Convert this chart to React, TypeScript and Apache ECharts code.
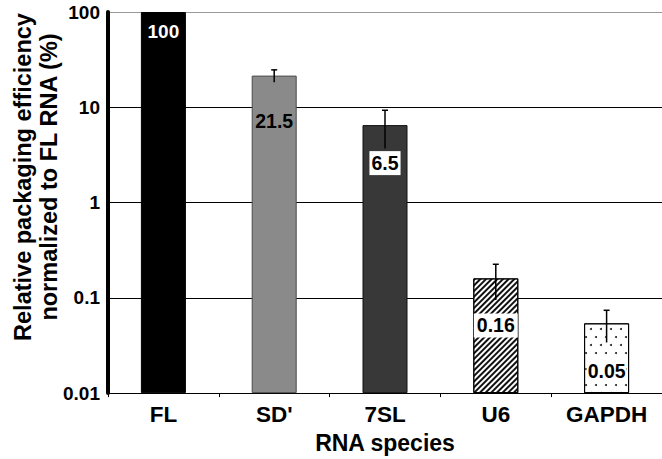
import React, { useEffect, useRef } from "react";
import * as echarts from "echarts";

const categories = ["FL", "SD'", "7SL", "U6", "GAPDH"];
const efficiency = [100, 21.5, 6.5, 0.16, 0.054];
const errors = [0, 3.2, 2.8, 0.065, 0.02];
const valueLabels = ["100", "21.5", "6.5", "0.16", "0.05"];
const yTickLabels = ["0.01", "0.1", "1", "10", "100"];
const axisFloor = 0.01;

const FONT = "'Liberation Sans', Arial, Helvetica, sans-serif";

const barLooks: any[] = [
  { color: "#000000", borderColor: "#000000", borderWidth: 1 },
  { color: "#8a8a8a", borderColor: "#4a4a4a", borderWidth: 1 },
  { color: "#383838", borderColor: "#111111", borderWidth: 1 },
  {
    color: "#ffffff",
    borderColor: "#000000",
    borderWidth: 1,
    decal: {
      symbol: "rect",
      color: "#111111",
      dashArrayX: [1, 0],
      dashArrayY: [1.5, 1.6],
      rotation: -Math.PI / 4,
      symbolSize: 1,
    },
  },
  {
    color: "#ffffff",
    borderColor: "#000000",
    borderWidth: 1,
    decal: {
      symbol: "circle",
      color: "#222222",
      dashArrayX: [
        [1.5, 7.5],
        [0, 4.5, 1.5, 3],
      ],
      dashArrayY: [1.5, 6],
      symbolSize: 1,
    },
  },
];

const labelLooks: any[] = [
  { color: "#ffffff", fontSize: 19, distance: 10 },
  { color: "#000000", fontSize: 19.5, distance: 35 },
  { color: "#000000", fontSize: 19.5, distance: 26, backgroundColor: "#ffffff", padding: [2, 2] },
  { color: "#000000", fontSize: 19.5, distance: 35, backgroundColor: "#ffffff", padding: [2, 3] },
  { color: "#000000", fontSize: 19.5, distance: 36, backgroundColor: "#ffffff", padding: [2, 1] },
];

export default function App() {
  const ref = useRef<HTMLDivElement>(null);

  useEffect(() => {
    if (!ref.current) return;
    const chart = echarts.init(ref.current, undefined, { renderer: "svg" });

    const baseData = efficiency.map(() => axisFloor);
    const barData = efficiency.map((v, i) => ({
      value: v - axisFloor,
      itemStyle: barLooks[i],
      label: {
        show: true,
        position: "insideTop",
        formatter: () => valueLabels[i],
        fontFamily: FONT,
        fontWeight: "bold",
        ...labelLooks[i],
      },
    }));

    const errData = efficiency.map((v, i) => [i, v, errors[i]]);

    const option: any = {
      animation: false,
      backgroundColor: "#ffffff",
      grid: { left: 108, top: 12, width: 560, height: 386, containLabel: false },
      xAxis: {
        type: "category",
        data: categories,
        axisLine: { show: true, lineStyle: { color: "#000", width: 1 } },
        axisTick: { show: true, length: 4, lineStyle: { color: "#000" } },
        axisLabel: {
          color: "#000",
          fontFamily: FONT,
          fontWeight: "bold",
          fontSize: 22.5,
          margin: 10,
        },
        name: "RNA species",
        nameLocation: "middle",
        nameGap: 37,
        nameTextStyle: {
          color: "#000",
          fontFamily: FONT,
          fontWeight: "bold",
          fontSize: 23,
        },
      },
      yAxis: {
        type: "log",
        logBase: 10,
        min: 0.01,
        max: 100,
        axisLine: { show: true, lineStyle: { color: "#000", width: 4 } },
        axisTick: { show: false },
        axisLabel: {
          color: "#000",
          fontFamily: FONT,
          fontWeight: "bold",
          fontSize: 19,
          margin: 8,
          formatter: (v: number) => {
            const i = Math.round(Math.log10(v)) + 2;
            return yTickLabels[i] ?? "";
          },
        },
        splitLine: {
          show: true,
          lineStyle: { color: ["#000", "#000", "#000", "#000", "#999"], width: 1 },
        },
      },
      graphic: [
        {
          type: "text",
          x: 36,
          y: 177,
          rotation: Math.PI / 2,
          style: {
            text: "Relative packaging efficiency\nnormalized to FL RNA (%)",
            align: "center",
            verticalAlign: "middle",
            fontFamily: FONT,
            fontWeight: "bold",
            fontSize: 23.5,
            lineHeight: 26,
            fill: "#000",
          },
        },
      ],
      series: [
        {
          type: "bar",
          stack: "bars",
          data: baseData,
          barWidth: 45,
          itemStyle: { color: "transparent", borderWidth: 0 },
          silent: true,
          z: 1,
        },
        {
          type: "bar",
          stack: "bars",
          data: barData,
          barWidth: 45,
          z: 2,
        },
        {
          type: "custom",
          z: 3,
          data: errData,
          encode: { x: 0, y: 1 },
          renderItem: (params: any, api: any) => {
            const idx = api.value(0);
            const val = api.value(1);
            const err = api.value(2);
            if (!err) return { type: "group", children: [] };
            const top = api.coord([idx, val + err]);
            const bot = api.coord([idx, val - err]);
            const cap = 3;
            const style = { stroke: "#000", lineWidth: 1.5 };
            return {
              type: "group",
              children: [
                { type: "line", shape: { x1: top[0], y1: top[1], x2: bot[0], y2: bot[1] }, style },
                { type: "line", shape: { x1: top[0] - cap, y1: top[1], x2: top[0] + cap, y2: top[1] }, style },
              ],
            };
          },
        },
      ],
    };

    chart.setOption(option);
    return () => chart.dispose();
  }, []);

  return (
    <div
      ref={ref}
      style={{ position: "fixed", left: 0, top: 0, width: 662, height: 459, background: "#fff" }}
    />
  );
}
